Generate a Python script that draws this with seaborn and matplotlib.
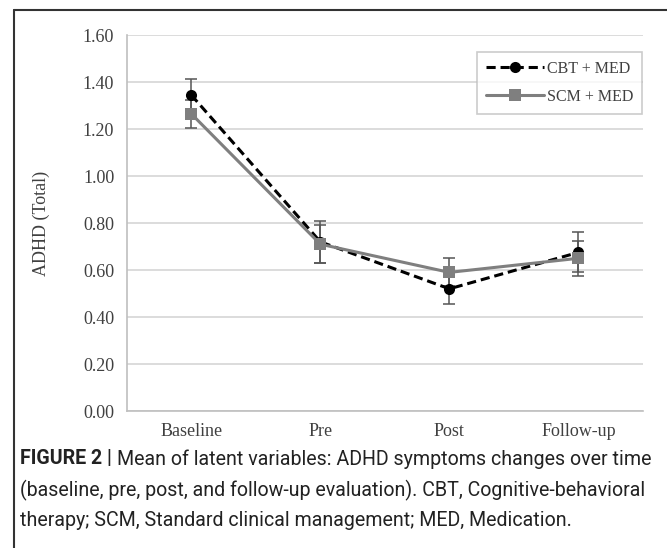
import matplotlib
matplotlib.use('Agg')
import matplotlib.pyplot as plt
from matplotlib.lines import Line2D
import seaborn as sns
import pandas as pd
import numpy as np

# values
time_points = ['Baseline', 'Pre', 'Post', 'Follow-up']
cbt_mean = [1.345, 0.72, 0.52, 0.675]
cbt_err = [0.07, 0.09, 0.065, 0.085]
scm_mean = [1.265, 0.71, 0.59, 0.65]
scm_err = [0.06, 0.08, 0.06, 0.075]
groups = ['CBT + MED', 'SCM + MED']

sns.set_theme(style='white')
plt.rcParams['font.family'] = ['Liberation Serif', 'DejaVu Serif']

df = pd.DataFrame({
    'Time': time_points * 2,
    'Mean': cbt_mean + scm_mean,
    'Group': [groups[0]] * 4 + [groups[1]] * 4,
})

fig = plt.figure(figsize=(6.67, 5.48), dpi=100)
ax = fig.add_axes([0.190, 0.250, 0.774, 0.686])

colors = {groups[0]: 'black', groups[1]: '#7f7f7f'}
sns.lineplot(data=df, x='Time', y='Mean', hue='Group', style='Group',
             palette=colors, markers={groups[0]: 'o', groups[1]: 's'},
             dashes={groups[0]: (3, 1.6), groups[1]: ''}, markersize=8,
             markeredgewidth=0, linewidth=2.2, sort=False, ax=ax, legend=False,
             zorder=3)

# error bars on the same categorical positions
xpos = np.arange(len(time_points))
ax.errorbar(xpos, scm_mean, yerr=scm_err, fmt='none', ecolor='#555555',
            elinewidth=1.1, capsize=4, capthick=1.1, zorder=2)
ax.errorbar(xpos, cbt_mean, yerr=cbt_err, fmt='none', ecolor='#555555',
            elinewidth=1.1, capsize=4, capthick=1.1, zorder=2)

ax.set_xlim(-0.5, len(time_points) - 0.5)
ax.set_ylim(0, 1.6)
yt = np.arange(0, 1.61, 0.2)
ax.set_yticks(yt)
ax.set_yticklabels([f'{v:.2f}' for v in yt], fontsize=13, color='#404040')
ax.set_xticks(xpos)
ax.set_xticklabels(time_points, fontsize=13, color='#404040')
ax.set_xticks(np.arange(-0.5, len(time_points)), minor=True)
ax.tick_params(axis='x', which='major', length=0, pad=9)
ax.tick_params(axis='x', which='minor', length=5, color='#bfbfbf', width=1)
ax.tick_params(axis='y', length=5, color='#bfbfbf', width=1, pad=4)

ax.grid(axis='y', color='#d9d9d9', linewidth=1.3)
ax.set_axisbelow(True)
for side in ['top', 'right']:
    ax.spines[side].set_visible(False)
for side in ['left', 'bottom']:
    ax.spines[side].set_color('#bfbfbf')
    ax.spines[side].set_linewidth(1.2)

ax.set_xlabel('')
ax.set_ylabel('ADHD (Total)', fontsize=13, color='#404040', labelpad=24)

handles = [
    Line2D([], [], color='black', linestyle=(0, (3, 1.6)), linewidth=2.2,
           marker='o', markersize=8, markeredgewidth=0),
    Line2D([], [], color='#7f7f7f', linestyle='-', linewidth=2.2,
           marker='s', markersize=8, markeredgewidth=0),
]
leg = ax.legend(handles, groups, loc='upper right', bbox_to_anchor=(0.998, 0.955),
                borderaxespad=0, fancybox=False, frameon=True, handlelength=3.6,
                fontsize=11.5, labelspacing=0.75, handletextpad=0.2,
                borderpad=0.55)
leg.get_frame().set_edgecolor('#bfbfbf')
leg.get_frame().set_linewidth(1.2)
for t in leg.get_texts():
    t.set_color('#404040')

# frame lines of the figure panel
fig.add_artist(Line2D([14 / 667, 1.0], [1 - 10 / 548, 1 - 10 / 548],
                      color='#333333', linewidth=1.5))
fig.add_artist(Line2D([14 / 667, 14 / 667], [1 - 10 / 548, 0.0],
                      color='#333333', linewidth=1.5))

# caption, sized so its longest line fits the panel width
cap_font = ['Roboto', 'DejaVu Sans']
head = 'FIGURE 2 | '
lines = [
    'Mean of latent variables: ADHD symptoms changes over time',
    '(baseline, pre, post, and follow-up evaluation). CBT, Cognitive-behavioral',
    'therapy; SCM, Standard clinical management; MED, Medication.',
]
renderer = fig.canvas.get_renderer()
probe = fig.text(0, 0, lines[1], family=cap_font, fontsize=13)
w = probe.get_window_extent(renderer).width
probe.remove()
cap_size = 13 * 624 / w

x0 = 20 / 667
ys = [1 - 459 / 548, 1 - 490 / 548, 1 - 520 / 548]
t0 = fig.text(x0, ys[0], head, family=cap_font, fontweight='bold',
              fontsize=cap_size, color='#222222', va='center')
bb = t0.get_window_extent(renderer)
fig.text(bb.x1 / fig.bbox.width, ys[0], lines[0], family=cap_font,
         fontsize=cap_size, color='#222222', va='center')
fig.text(x0, ys[1], lines[1], family=cap_font, fontsize=cap_size,
         color='#222222', va='center')
fig.text(x0, ys[2], lines[2], family=cap_font, fontsize=cap_size,
         color='#222222', va='center')

fig.savefig('out.png', dpi=100)
